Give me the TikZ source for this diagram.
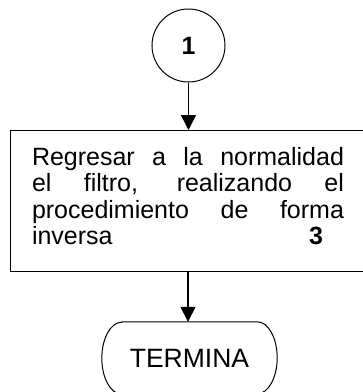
\documentclass[tikz,border=0pt]{standalone}
\usepackage{fontspec}
\setmainfont{Liberation Sans}
\usetikzlibrary{arrows.meta}

\tikzset{
  conector/.style={circle, draw, line width=1pt, minimum size=73pt, inner sep=0pt, font=\fontsize{25}{28}\selectfont\bfseries},
  proceso/.style={rectangle, draw, line width=1pt, text width=312pt, inner xsep=22pt, inner ysep=0pt, align=justify, anchor=north, font=\fontsize{25}{26.4}\selectfont},
  terminal/.style={draw=none, minimum width=175pt, minimum height=72pt, inner sep=0pt, font=\fontsize{26.5}{30}\selectfont},
  flecha/.style={line width=1.5pt, -{Triangle[length=15pt,width=15pt]}}
}

\begin{document}
\begin{tikzpicture}[x=1pt, y=1pt]

\useasboundingbox (0,0) rectangle (363,-392);

\node[conector] (c1) at (188.5,-45.5) {1};
\node[proceso] (proc) at (188,-130) {\tolerance=10000\hbadness=10000\rule{0pt}{35pt}Regresar a la normalidad\linebreak el filtro, realizando el\linebreak procedimiento de forma\linebreak inversa\hfill\textbf{3}\hspace*{21pt}\rule[-26.5pt]{0pt}{0pt}};
\node[terminal] (fin) at (189.5,-358) {TERMINA};

% borde del terminal
\draw[line width=1pt] ([xshift=20pt]fin.north west) -- ([xshift=-20pt]fin.north east)
  arc[start angle=90, end angle=-90, x radius=20pt, y radius=36pt]
  -- ([xshift=20pt]fin.south west)
  arc[start angle=270, end angle=90, x radius=20pt, y radius=36pt] -- cycle;

% Flechas
\draw[flecha] (c1.south) -- (c1.south |- proc.north);
\draw[flecha] (proc.south) -- (proc.south |- fin.north);

\end{tikzpicture}
\end{document}
